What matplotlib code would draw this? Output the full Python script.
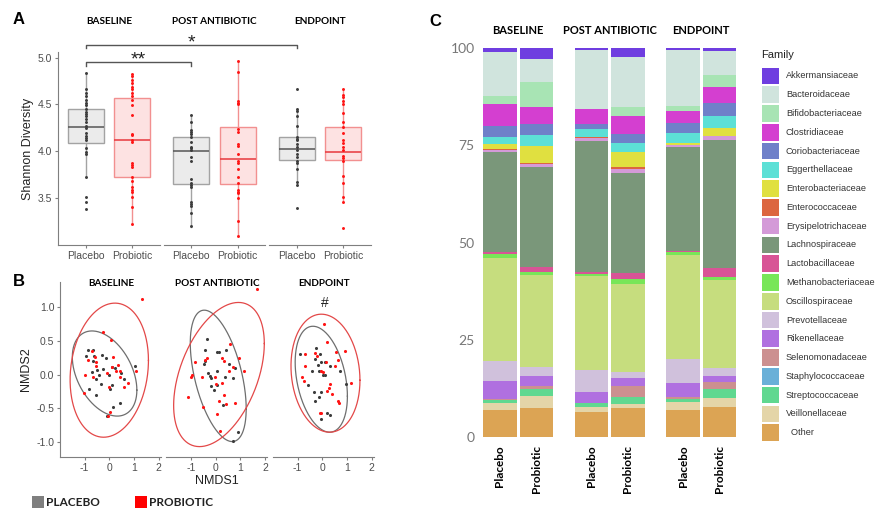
"""
Three-panel microbiome figure: Shannon diversity, NMDS ordination and
family-level relative abundance by stage and treatment group.
"""

import matplotlib
matplotlib.use("Agg")

import matplotlib.pyplot as plt
import numpy as np
from matplotlib.lines import Line2D
from matplotlib.patches import Rectangle

FIG_W, FIG_H = 878, 508

plt.rcParams["font.family"] = ["Liberation Sans", "DejaVu Sans"]
plt.rcParams["axes.unicode_minus"] = False

stages = ["BASELINE", "POST ANTIBIOTIC", "ENDPOINT"]
groups = ["Placebo", "Probiotic"]

# ---- Panel A: Shannon diversity (order: BL-placebo, BL-probiotic, PA-..., EP-...)
shannon_q1 = [4.09, 3.73, 3.65, 3.65, 3.91, 3.91]
shannon_median = [4.26, 4.12, 4.00, 3.92, 4.02, 3.99]
shannon_q3 = [4.45, 4.57, 4.15, 4.26, 4.15, 4.26]
shannon_whislo = [3.73, 3.22, 3.19, 3.10, 3.64, 3.46]
shannon_whishi = [4.84, 4.83, 4.39, 4.96, 4.45, 4.67]

shannon_baseline_placebo = [4.84, 4.66, 4.62, 4.59, 4.55, 4.52, 4.49, 4.45, 4.42,
                            4.40, 4.38, 4.34, 4.31, 4.27, 4.25, 4.20, 4.16, 4.14,
                            4.12, 4.03, 3.99, 3.97, 3.73, 3.51, 3.46, 3.38]
shannon_baseline_probiotic = [4.83, 4.80, 4.76, 4.73, 4.69, 4.66, 4.62, 4.59, 4.55,
                              4.49, 4.39, 4.19, 4.17, 4.12, 4.10, 3.87, 3.85, 3.83,
                              3.73, 3.68, 3.62, 3.59, 3.57, 3.51, 3.41, 3.22]
shannon_post_placebo = [4.39, 4.31, 4.23, 4.21, 4.19, 4.15, 4.10, 4.05, 4.03, 4.01,
                        3.94, 3.90, 3.70, 3.66, 3.64, 3.62, 3.46, 3.44, 3.42, 3.34,
                        3.20]
shannon_post_probiotic = [4.96, 4.85, 4.54, 4.52, 4.51, 4.24, 4.21, 4.08, 4.06, 3.97,
                          3.90, 3.88, 3.81, 3.73, 3.66, 3.59, 3.57, 3.55, 3.50, 3.26,
                          3.10]
shannon_end_placebo = [4.66, 4.45, 4.43, 4.38, 4.27, 4.15, 4.13, 4.12, 4.08, 4.05,
                       4.01, 3.97, 3.94, 3.90, 3.88, 3.81, 3.67, 3.64, 3.39]
shannon_end_probiotic = [4.67, 4.60, 4.58, 4.54, 4.51, 4.41, 4.31, 4.26, 4.20, 4.12,
                         4.09, 4.05, 4.01, 3.95, 3.93, 3.90, 3.74, 3.66, 3.51, 3.46,
                         3.18]

shannon_points = [shannon_baseline_placebo, shannon_baseline_probiotic,
                  shannon_post_placebo, shannon_post_probiotic,
                  shannon_end_placebo, shannon_end_probiotic]

# ---- Panel B: NMDS scores per stage
nmds_placebo_x = [
    [-0.86, -0.66, -0.93, -0.64, -0.29, -0.14, -0.65, 0.10, 0.24, -0.24, -0.70, -0.50,
     0.47, 1.03, -0.40, -0.02, -0.52, 0.59, -0.34, 0.10, -0.84, 0.03, -0.53, 0.43,
     0.14, -0.10],
    [-0.37, -0.45, 0.04, 0.15, 0.41, -0.45, -0.47, 0.53, 0.80, -0.32, 0.05, -0.24,
     -0.21, 0.36, 0.71, -0.21, 0.07, -0.07, 0.28, 0.89, 0.68],
    [-0.27, -0.89, -0.09, -0.29, -0.05, 0.10, -0.16, 0.30, -0.41, -0.13, 0.72, 0.04,
     0.12, 0.97, -0.58, -0.04, -0.33, -0.13, -0.29, 0.19, 0.31, -0.07],
]
nmds_placebo_y = [
    [0.36, 0.37, 0.28, 0.28, 0.29, 0.25, 0.20, 0.11, 0.10, 0.08, 0.04, 0.07, 0.02,
     0.13, -0.01, -0.01, -0.07, -0.07, -0.14, -0.16, -0.22, -0.22, -0.31, -0.42,
     -0.49, -0.62],
    [0.53, 0.37, 0.33, 0.33, 0.36, 0.20, 0.15, 0.15, 0.09, 0.03, 0.05, -0.02, -0.05,
     -0.03, -0.05, -0.17, -0.15, -0.23, -0.45, -0.86, -0.99],
    [0.39, 0.31, 0.30, 0.23, 0.19, 0.19, 0.14, 0.12, 0.06, 0.06, 0.06, -0.01, -0.01,
     -0.14, -0.15, -0.26, -0.26, -0.33, -0.39, -0.58, -0.60, -0.66],
]
nmds_probiotic_x = [
    [1.34, -0.24, 0.07, -0.70, -0.57, -0.86, -0.53, -0.54, 0.14, 0.36, 0.11, 0.27,
     0.44, -0.10, -1.00, -0.68, 0.43, 0.76, 0.60, 0.00, -1.01, 1.10, 0.03, -0.07],
    [1.69, 0.57, 0.96, -0.83, -0.36, -0.44, 0.24, 0.35, -0.96, -1.00, -0.57, 0.53,
     0.71, 1.13, -0.04, 0.00, 0.27, -1.13, 0.32, 0.15, 0.40, 0.79, -0.53, 0.03, 0.19],
    [0.07, 0.19, -0.72, -0.30, -0.22, 0.54, 0.94, 0.64, 0.16, -0.72, 0.50, -0.07,
     0.03, -0.84, -0.76, 0.31, 0.26, 1.16, 0.19, 0.40, 0.64, 0.69, -0.04, -0.08],
]
nmds_probiotic_y = [
    [1.12, 0.64, 0.51, 0.35, 0.26, 0.22, 0.18, 0.12, 0.26, 0.14, 0.11, 0.05, 0.06,
     0.02, 0.00, -0.04, -0.04, -0.12, -0.19, -0.19, -0.27, 0.05, -0.56, -0.62],
    [1.28, 0.45, 0.25, 0.18, 0.24, 0.21, 0.25, 0.20, -0.01, -0.04, -0.03, 0.06, 0.11,
     0.05, -0.03, -0.14, -0.12, -0.33, -0.30, -0.39, -0.44, -0.43, -0.49, -0.59, -0.84],
    [0.76, 0.48, 0.30, 0.32, 0.28, 0.33, 0.35, 0.21, 0.19, 0.13, 0.12, 0.05, 0.04,
     -0.03, -0.10, -0.14, -0.20, -0.13, -0.25, -0.29, -0.40, -0.42, -0.57, -0.58],
]
# ellipse: centre x, centre y, half x-extent, half y-extent, correlation
ellipse_placebo = [(-0.19, 0.015, 1.31, 0.635, -0.39),
                   (0.10, -0.02, 1.135, 0.98, -0.50),
                   (-0.04, -0.07, 1.06, 0.79, -0.32)]
ellipse_probiotic = [(0.00, 0.065, 1.59, 1.00, 0.145),
                     (0.13, 0.00, 1.84, 1.075, 0.43),
                     (0.13, 0.02, 1.40, 0.88, -0.12)]

# ---- Panel C: family relative abundance (%), legend order
families = ["Akkermansiaceae", "Bacteroidaceae", "Bifidobacteriaceae",
            "Clostridiaceae", "Coriobacteriaceae", "Eggerthellaceae",
            "Enterobacteriaceae", "Enterococcaceae", "Erysipelotrichaceae",
            "Lachnospiraceae", "Lactobacillaceae", "Methanobacteriaceae",
            "Oscillospiraceae", "Prevotellaceae", "Rikenellaceae",
            "Selenomonadaceae", "Staphylococcaceae", "Streptococcaceae",
            "Veillonellaceae", "Other"]
family_colors = ["#6f3ee0", "#d0e4dd", "#a8e4b4", "#d43fd0", "#6f80c9",
                 "#5ce0d6", "#e0e040", "#dc6640", "#d49ad8", "#7a977a",
                 "#d85496", "#78e658", "#c6dd7e", "#d0c1dc", "#b070e0",
                 "#cc9090", "#6ab0d8", "#60d890", "#e4d5a8", "#dca454"]

baseline_placebo = [1.0, 11.4, 2.0, 5.7, 2.8, 1.7, 1.4, 0.2, 0.6, 25.7,
                    0.4, 1.0, 26.7, 5.0, 4.8, 0.2, 0.0, 0.7, 1.9, 6.8]
baseline_probiotic = [2.8, 5.8, 6.4, 4.5, 2.9, 2.7, 4.5, 0.3, 0.6, 25.9,
                      1.1, 0.9, 23.6, 2.3, 2.7, 0.8, 0.0, 1.7, 3.2, 7.3]
post_placebo = [0.4, 15.2, 0.0, 4.0, 1.3, 1.9, 0.0, 0.4, 0.6, 33.7,
                0.5, 0.6, 24.2, 5.8, 2.65, 0.0, 0.0, 1.2, 1.15, 6.4]
post_probiotic = [2.2, 13.0, 2.2, 4.7, 2.4, 2.1, 3.9, 0.5, 1.0, 25.9,
                  1.5, 1.3, 22.6, 1.7, 1.9, 3.0, 0.0, 1.7, 1.1, 7.3]
end_placebo = [0.5, 14.4, 1.2, 3.1, 2.5, 2.8, 0.4, 0.1, 0.5, 26.7,
               0.3, 0.8, 26.8, 6.0, 3.8, 0.3, 0.0, 0.9, 2.0, 6.9]
end_probiotic = [0.8, 6.1, 3.0, 4.3, 3.2, 3.0, 2.2, 0.0, 1.0, 32.9,
                 2.5, 0.7, 22.5, 2.1, 1.5, 1.9, 0.0, 2.4, 2.2, 7.7]

bars_c = [baseline_placebo, baseline_probiotic, post_placebo,
          post_probiotic, end_placebo, end_probiotic]

GRAY_FILL, GRAY_EDGE, GRAY_MED, GRAY_PT = "#ebebeb", "#a3a3a3", "#555555", "#3c3c3c"
RED_FILL, RED_EDGE, RED_MED, RED_PT = "#fde2e2", "#f29090", "#e8383d", "#ff1414"
AXIS_GRAY = "#7f7f7f"
TICK_TEXT = "#4d4d4d"
TITLE_FONT = ["Lato", "DejaVu Sans"]


def px_rect(left, top, right, bottom):
    return [left / FIG_W, 1 - bottom / FIG_H,
            (right - left) / FIG_W, (bottom - top) / FIG_H]


def fig_text(fig, x, y, s, **kwargs):
    return fig.text(x / FIG_W, 1 - y / FIG_H, s, **kwargs)


def ellipse_xy(cx, cy, a, b, rho):
    t = np.linspace(0, 2 * np.pi, 300)
    phi = np.arccos(rho)
    return cx + a * np.cos(t), cy + b * np.cos(t - phi)


def style_facet(ax, first):
    for side in ["top", "right"]:
        ax.spines[side].set_visible(False)
    ax.spines["bottom"].set_color(AXIS_GRAY)
    ax.spines["left"].set_color(AXIS_GRAY)
    ax.spines["left"].set_visible(first)
    ax.tick_params(colors=AXIS_GRAY, labelcolor=TICK_TEXT, labelsize=7.5,
                   length=2.5, width=0.8, pad=1.5)
    if not first:
        ax.tick_params(axis="y", left=False, labelleft=False)
    ax.patch.set_alpha(0)


def draw_panel_a(fig):
    axes = []
    for i, stage in enumerate(stages):
        left = 58 + i * 105.5
        ax = fig.add_axes(px_rect(left, 52, left + 102, 245))
        for j in range(2):
            k = 2 * i + j
            if j == 0:
                face, edge, med, pt = GRAY_FILL, GRAY_EDGE, GRAY_MED, GRAY_PT
            else:
                face, edge, med, pt = RED_FILL, RED_EDGE, RED_MED, RED_PT
            stats = [{
                "med": shannon_median[k],
                "q1": shannon_q1[k],
                "q3": shannon_q3[k],
                "whislo": shannon_whislo[k],
                "whishi": shannon_whishi[k],
                "fliers": [],
            }]
            ax.bxp(stats, positions=[j + 1], widths=0.78, patch_artist=True,
                   showcaps=False, showfliers=False,
                   boxprops=dict(facecolor=face, edgecolor=edge, linewidth=1.0),
                   whiskerprops=dict(color=edge, linewidth=1.0),
                   medianprops=dict(color=med, linewidth=1.1))
            pts = shannon_points[k]
            ax.scatter(np.full(len(pts), j + 1), pts, s=4.5, color=pt,
                       linewidths=0, zorder=3)
        ax.set_xlim(0.4, 2.6)
        ax.set_ylim(3.0, 5.06)
        ax.set_yticks([3.5, 4.0, 4.5, 5.0])
        ax.set_xticks([1, 2], groups)
        style_facet(ax, i == 0)
        fig_text(fig, left + 51, 22, stage, ha="center", va="center",
                 fontsize=7.2, fontweight="bold", family=TITLE_FONT)
        axes.append(ax)

    axes[0].set_ylabel("Shannon Diversity", fontsize=9, color="#222222",
                       labelpad=3)

    # significance brackets spanning facets
    to_fig = fig.transFigure.inverted()

    def bracket(ax_end, y, tip, label, star_y):
        x0, yy = to_fig.transform(axes[0].transData.transform((1, y)))
        x1, _ = to_fig.transform(ax_end.transData.transform((1, y)))
        _, yt = to_fig.transform(axes[0].transData.transform((1, y - tip)))
        fig.add_artist(Line2D([x0, x0, x1, x1], [yt, yy, yy, yt],
                              transform=fig.transFigure, color="#555555",
                              linewidth=1.0))
        fig_text(fig, (x0 + x1) / 2 * FIG_W, star_y, label, ha="center",
                 va="center", fontsize=14, color="#222222")

    bracket(axes[1], 4.95, 0.04, "**", 60)
    bracket(axes[2], 5.14, 0.04, "*", 43)


def draw_panel_b(fig):
    axes = []
    for i, stage in enumerate(stages):
        left = 60 + i * 106.5
        ax = fig.add_axes(px_rect(left, 282, left + 101, 457))
        ax.scatter(nmds_placebo_x[i], nmds_placebo_y[i], s=5, color=GRAY_PT,
                   linewidths=0, zorder=3)
        ax.scatter(nmds_probiotic_x[i], nmds_probiotic_y[i], s=5, color=RED_PT,
                   linewidths=0, zorder=3)
        ex, ey = ellipse_xy(*ellipse_placebo[i])
        ax.plot(ex, ey, color="#6e6e6e", linewidth=0.9)
        ex, ey = ellipse_xy(*ellipse_probiotic[i])
        ax.plot(ex, ey, color="#e34848", linewidth=0.9)
        ax.set_xlim(-2.0, 2.1)
        ax.set_ylim(-1.23, 1.38)
        ax.set_xticks([-1, 0, 1, 2])
        ax.set_yticks([-1.0, -0.5, 0.0, 0.5, 1.0])
        style_facet(ax, i == 0)
        fig_text(fig, left + 51, 283, stage, ha="center", va="center",
                 fontsize=7.2, fontweight="bold", family=TITLE_FONT)
        axes.append(ax)

    axes[0].set_ylabel("NMDS2", fontsize=9, color="#222222", labelpad=3)
    axes[1].set_xlabel("NMDS1", fontsize=9, color="#222222", labelpad=2)
    fig_text(fig, 325, 303, "#", ha="center", va="center", fontsize=10,
             color="#222222")

    # group legend below panel B
    for x0, color, label in [(32, "#7f7f7f", "PLACEBO"), (135, "#ff0000", "PROBIOTIC")]:
        fig.add_artist(Rectangle((x0 / FIG_W, 1 - 509 / FIG_H), 12 / FIG_W,
                                 13 / FIG_H, transform=fig.transFigure,
                                 color=color, linewidth=0))
        fig_text(fig, x0 + 14, 502, label, ha="left", va="center",
                 fontsize=8.5, fontweight="bold", family=TITLE_FONT,
                 color="#222222")


def draw_panel_c(fig):
    ax = fig.add_axes(px_rect(476, 48.3, 740, 436.7))
    positions = []
    for g in range(3):
        positions += [g * 2.67, g * 2.67 + 1.06]
    positions = np.array(positions)

    values = np.array(bars_c)  # bars x families
    bottom = np.zeros(len(bars_c))
    for f in range(len(families) - 1, -1, -1):
        ax.bar(positions, values[:, f], bottom=bottom, width=0.98,
               color=family_colors[f], linewidth=0)
        bottom += values[:, f]

    ax.set_xlim(-0.7, 7.0)
    ax.set_ylim(0, 100)
    for side in ax.spines:
        ax.spines[side].set_visible(False)
    ax.set_yticks([0, 25, 50, 75, 100])
    ax.tick_params(axis="y", length=0, pad=1, labelsize=10, labelcolor="#777777")
    ax.set_yticklabels(["0", "25", "50", "75", "100"], family=TITLE_FONT)
    ax.set_xticks(positions, groups * 3, rotation=90, fontsize=8.5,
                  fontweight="bold", family=TITLE_FONT)
    ax.tick_params(axis="x", length=0, pad=6)

    for g, stage in enumerate(stages):
        xc = (positions[2 * g] + positions[2 * g + 1]) / 2
        ax.text(xc, 1.045, stage, transform=ax.get_xaxis_transform(),
                ha="center", va="center", fontsize=8, fontweight="bold",
                family=TITLE_FONT)

    # family legend
    fig_text(fig, 761, 55, "Family", ha="left", va="center", fontsize=8,
             color="#222222")
    for i, (name, color) in enumerate(zip(families, family_colors)):
        yc = 76 + i * 18.77
        fig.add_artist(Rectangle((762 / FIG_W, 1 - (yc + 8.3) / FIG_H),
                                 17 / FIG_W, 16.6 / FIG_H,
                                 transform=fig.transFigure, color=color,
                                 linewidth=0))
        label = "  " + name if name == "Other" else name
        fig_text(fig, 786, yc, label, ha="left", va="center", fontsize=6.6,
                 color="#333333")


def main():
    fig = plt.figure(figsize=(FIG_W / 100, FIG_H / 100), dpi=100)
    draw_panel_a(fig)
    draw_panel_b(fig)
    draw_panel_c(fig)

    for x, y, letter in [(19, 19, "A"), (19, 281, "B"), (435, 21, "C")]:
        fig_text(fig, x, y, letter, ha="center", va="center", fontsize=12,
                 fontweight="bold")

    fig.savefig("out.png", dpi=100)
    plt.close(fig)


if __name__ == "__main__":
    main()
